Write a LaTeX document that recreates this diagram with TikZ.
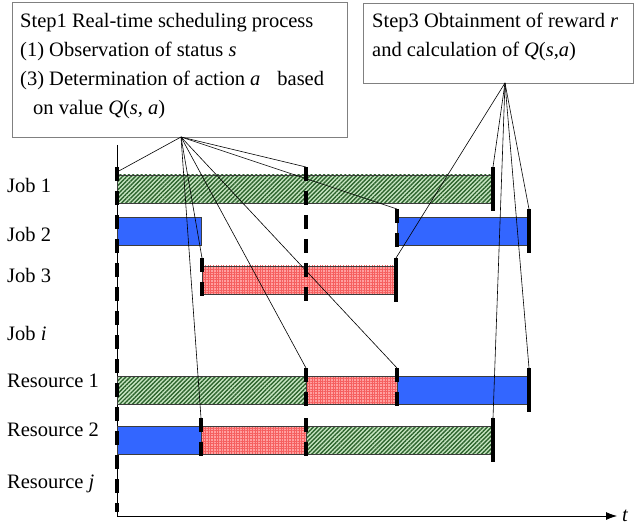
\documentclass[tikz,border=0pt]{standalone}
\usepackage{fontspec}
\setmainfont{Liberation Serif}
\usepackage{tikz}
\usetikzlibrary{arrows.meta,calc,patterns.meta}

\definecolor{boxgray}{RGB}{128,128,128}
\definecolor{barline}{RGB}{60,60,60}
\definecolor{jobblue}{RGB}{51,102,255}
\definecolor{greenfill}{RGB}{200,230,195}
\definecolor{greendark}{RGB}{45,100,45}
\definecolor{redfill}{RGB}{255,160,160}
\definecolor{redgrid}{RGB}{245,95,95}

\begin{document}
\begin{tikzpicture}[x=1pt,y=-1pt,font=\fontsize{20.5}{29}\selectfont]
      \tikzset{stepbox/.style={draw=boxgray,line width=1.3pt,inner sep=0pt,anchor=north west},
          steptext/.style={anchor=base west,align=left,inner sep=0pt},
          bar/.style={draw=barline,line width=0.9pt},
          greenbar/.style={bar,preaction={fill=greenfill},
            pattern={Lines[angle=45,distance=3pt,line width=1.4pt]},pattern color=greendark},
          redbar/.style={bar,preaction={fill=redfill},
            pattern={Hatch[angle=0,distance=2.6pt,line width=0.5pt]},pattern color=redgrid},
          bluebar/.style={bar,fill=jobblue},
          startmark/.style={line width=3.6pt,dash pattern=on 14pt off 10pt},
          endmark/.style={line width=3.6pt},
          link/.style={line width=0.6pt}
      }
      \useasboundingbox (0,0) rectangle (638,524);

      % boxes of the two steps (text placed by the baseline of its last line)
      \node [stepbox,minimum width=335pt,minimum height=135pt] (step1) at (12,2) {};
      \node [stepbox,minimum width=270pt,minimum height=80pt] (step3) at (363,3) {};
      \node [steptext] (step1text) at (20,115) {Step1 Real-time scheduling process\\
        (1) Observation of status \textit{s}\\
        (3) Determination of action \textit{a}\hspace{17pt}based\\
        \hspace{13pt}on value \textit{Q}(\textit{s}, \textit{a})};
      \node [steptext] (step3text) at (372,57) {Step3 Obtainment of reward \textit{r}\\
        and calculation of \textit{Q}(\textit{s},\textit{a})};

      % row labels
      \node [anchor=base west,inner sep=0pt] (job1) at (7,193) {Job 1};
      \node [anchor=base west,inner sep=0pt] (job2) at (7,242) {Job 2};
      \node [anchor=base west,inner sep=0pt] (job3) at (7,283) {Job 3};
      \node [anchor=base west,inner sep=0pt] (jobi) at (7,340) {Job \textit{i}};
      \node [anchor=base west,inner sep=0pt] (res1) at (7,387) {Resource 1};
      \node [anchor=base west,inner sep=0pt] (res2) at (7,436) {Resource 2};
      \node [anchor=base west,inner sep=0pt] (resj) at (7,488) {Resource \textit{j}};

      % time axis
      \coordinate (top) at (117,145);
      \coordinate (origin) at (117,516);
      \coordinate (tend) at (617,516);
      \draw [line width=0.8pt,-{Latex[length=11pt,width=8pt]}] (top) -- (origin) -- (tend);
      \node [anchor=base west,inner sep=0pt] (t) at (622,521) {\textit{t}};

      % jobs
      \draw [greenbar] (117,175) rectangle (493,203);
      \draw [bluebar] (117,217) rectangle (201,245);
      \draw [bluebar] (397,217) rectangle (529,245);
      \draw [redbar] (202,266) rectangle (396,294);
      % resources
      \draw [greenbar] (117,376) rectangle (306,404);
      \draw [redbar] (306,376) rectangle (397,404);
      \draw [bluebar] (397,376) rectangle (529,404);
      \draw [bluebar] (117,426) rectangle (201,454);
      \draw [redbar] (201,426) rectangle (306,454);
      \draw [greenbar] (306,426) rectangle (493,454);

      % decision points and finish points
      \draw [startmark] (117,167) -- (117,512);
      \draw [startmark] (306,167) -- (306,302);
      \foreach \x/\ya in {397/209, 202/258, 306/368, 397/368, 201/418, 306/418}
        \draw [startmark] (\x,\ya) -- (\x,\ya+44);
      \foreach \x/\ya in {493/167, 529/209, 396/258, 529/368, 493/418}
        \draw [endmark] (\x,\ya) -- (\x,\ya+44);

      \coordinate (o1) at (181,137);
      \coordinate (o3) at (505,83);
      \coordinate (a0) at (117,172);
      \coordinate (j1b) at (306,167);
      \coordinate (j2s) at (397,209);
      \coordinate (j3s) at (202,258);
      \coordinate (r1a) at (306,368);
      \coordinate (r1b) at (397,368);
      \coordinate (r2a) at (201,418);
      \coordinate (j1e) at (493,167);
      \coordinate (j2e) at (529,209);
      \coordinate (j3e) at (396,258);
      \coordinate (r1e) at (529,368);
      \coordinate (r2e) at (493,418);

      \foreach \p in {a0,j1b,j2s,j3s,r1a,r1b,r2a}
        \draw [link] (o1) -- (\p);
      \foreach \p in {j1e,j2e,j3e,r1e,r2e}
        \draw [link] (o3) -- (\p);
\end{tikzpicture}
\end{document}
